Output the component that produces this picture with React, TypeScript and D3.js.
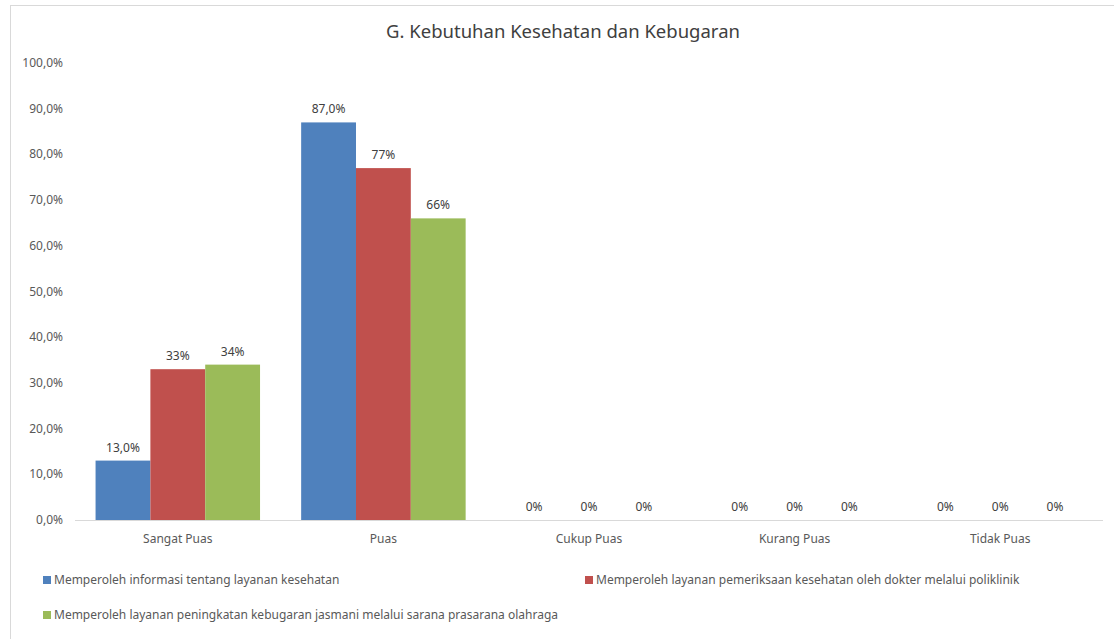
import React from 'react'
import * as d3 from 'd3'

// categories and series
const categories = ['Sangat Puas', 'Puas', 'Cukup Puas', 'Kurang Puas', 'Tidak Puas']
const seriesNames = [
  'Memperoleh informasi tentang layanan kesehatan',
  'Memperoleh layanan pemeriksaan kesehatan oleh dokter melalui poliklinik',
  'Memperoleh layanan peningkatan kebugaran jasmani melalui sarana prasarana olahraga'
]
const infoValues = [13, 87, 0, 0, 0]
const dokterValues = [33, 77, 0, 0, 0]
const olahragaValues = [34, 66, 0, 0, 0]
const infoLabels = ['13,0%', '87,0%', '0%', '0%', '0%']
const dokterLabels = ['33%', '77%', '0%', '0%', '0%']
const olahragaLabels = ['34%', '66%', '0%', '0%', '0%']
const yTicks = [0, 10, 20, 30, 40, 50, 60, 70, 80, 90, 100]
const colors = ['#4f81bd', '#c0504d', '#9bbb59']

const W = 1114
const H = 639
const margin = { left: 75, right: 11, top: 63, bottom: 119 }
const font = '"Noto Sans", sans-serif'

export default function App() {
  const series = [
    { name: seriesNames[0], values: infoValues, labels: infoLabels },
    { name: seriesNames[1], values: dokterValues, labels: dokterLabels },
    { name: seriesNames[2], values: olahragaValues, labels: olahragaLabels }
  ]

  const x = d3.scaleBand()
    .domain(categories)
    .range([margin.left, W - margin.right])
    .paddingInner(0.2)
    .paddingOuter(0.1)
  const xSub = d3.scaleBand()
    .domain(series.map(s => s.name))
    .range([0, x.bandwidth()])
  const y = d3.scaleLinear().domain([0, 100]).range([H - margin.bottom, margin.top])

  const fmtTick = (v: number) => v.toFixed(1).replace('.', ',') + '%'

  return (
    <svg width={W} height={H} style={{ position: 'absolute', left: 0, top: 0, background: '#fff' }} fontFamily={font}>
      {/* chart area border */}
      <line x1={10} y1={5.5} x2={W} y2={5.5} stroke="#d9d9d9" />
      <line x1={10.5} y1={5} x2={10.5} y2={H} stroke="#d9d9d9" />

      <text x={563} y={38} textAnchor="middle" fontSize={18.5} fill="#404040">
        G. Kebutuhan Kesehatan dan Kebugaran
      </text>

      {yTicks.map(t => (
        <text key={t} x={63} y={y(t) + 4} textAnchor="end" fontSize={12} fill="#595959">
          {fmtTick(t)}
        </text>
      ))}

      {categories.map((c, i) => (
        <g key={c} transform={`translate(${x(c)},0)`}>
          {series.map(s => (
            <rect key={s.name}
              x={xSub(s.name)}
              y={y(s.values[i])}
              width={xSub.bandwidth()}
              height={y(0) - y(s.values[i])}
              fill={colors[series.indexOf(s)]} />
          ))}
          {series.map(s => (
            <text key={s.name + 'l'}
              x={(xSub(s.name) || 0) + xSub.bandwidth() / 2}
              y={y(s.values[i]) - 9}
              textAnchor="middle" fontSize={12} fill="#404040">
              {s.labels[i]}
            </text>
          ))}
          <text x={x.bandwidth() / 2} y={y(0) + 23} textAnchor="middle" fontSize={12} fill="#595959">{c}</text>
        </g>
      ))}

      <line x1={margin.left} x2={W - margin.right} y1={y(0) + 0.5} y2={y(0) + 0.5} stroke="#d9d9d9" />

      {/* legend */}
      {[
        { x: 43, y: 580 },
        { x: 585, y: 580 },
        { x: 43, y: 615 }
      ].map((p, i) => (
        <g key={i}>
          <rect x={p.x} y={p.y - 4} width={8} height={8} fill={colors[i]} />
          <text x={p.x + 11} y={p.y + 4} fontSize={12} fill="#595959">{seriesNames[i]}</text>
        </g>
      ))}
    </svg>
  )
}
